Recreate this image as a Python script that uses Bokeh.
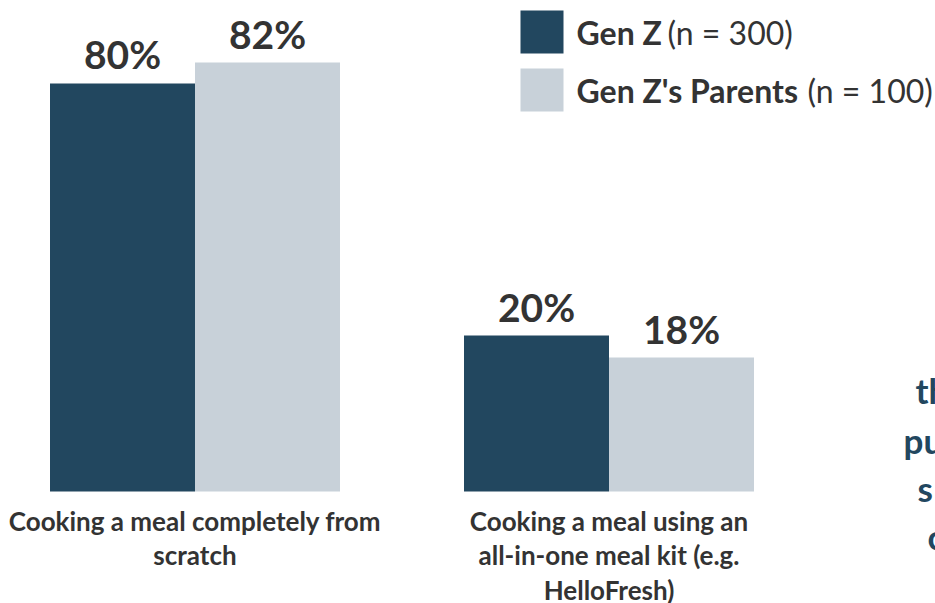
from bokeh.plotting import figure
from bokeh.models import Range1d, ColumnDataSource
from bokeh.core.properties import value
from bokeh.embed import file_html
from bokeh.resources import INLINE

# ---- data ----
categories = ["Cooking a meal completely from\nscratch",
              "Cooking a meal using an\nall-in-one meal kit (e.g.\nHelloFresh)"]
series_names = ["Gen Z", "Gen Z's Parents"]
series_n = ["(n = 300)", "(n = 100)"]
gen_z_values = [80, 20]
parents_values = [82, 18]
# bar heights as drawn in the picture (the source graphic is not to scale)
gen_z_heights = [78.0, 29.8]
parents_heights = [82.0, 25.6]
side_text = ["th", "pu", "s", "c"]

DARK = "#22475f"
LIGHT = "#c8d1d9"
TXT = "#333333"
FONT = "Lato"

W, H = 935, 603
PX_X = 414.0            # pixels per category step
X0 = -194.5 / PX_X
PX_Y = 429.0 / 82.0     # pixels per unit
Y0 = -(H - 491) / PX_Y

p = figure(width=W, height=H, output_backend="svg", toolbar_location=None,
           x_range=Range1d(X0, X0 + W / PX_X), y_range=Range1d(Y0, Y0 + H / PX_Y),
           min_border=0, outline_line_color=None)
p.axis.visible = False
p.grid.visible = False
p.background_fill_color = "white"

def px2x(px):
    return X0 + px / PX_X

def px2y(py):
    return Y0 + (H - py) / PX_Y

bw = 145.0 / PX_X
idx = list(range(len(categories)))
src_z = ColumnDataSource(dict(x=[i - bw / 2 for i in idx], top=gen_z_heights,
                              lab=[f"{v}%" for v in gen_z_values]))
src_p = ColumnDataSource(dict(x=[i + bw / 2 for i in idx], top=parents_heights,
                              lab=[f"{v}%" for v in parents_values]))
p.vbar(x="x", top="top", bottom=0, width=bw, source=src_z, fill_color=DARK, line_color=None)
p.vbar(x="x", top="top", bottom=0, width=bw, source=src_p, fill_color=LIGHT, line_color=None)

for s in (src_z, src_p):
    p.text(x="x", y="top", text="lab", source=s, text_align="center", text_baseline="bottom",
           y_offset=-6, text_font=value(FONT), text_font_style="bold",
           text_font_size="39px", text_color=TXT)

p.text(x=idx, y=[0] * len(idx), text=categories, text_align="center", text_baseline="top",
       y_offset=13, text_font=value(FONT), text_font_style="bold", text_font_size="26px",
       text_color=TXT, text_line_height=1.08)

# legend
leg_y = [31.5, 89.5]
for k, (name, n, col) in enumerate(zip(series_names, series_n, [DARK, LIGHT])):
    p.rect(x=[px2x(541.5)], y=[px2y(leg_y[k])], width=43 / PX_X, height=43 / PX_Y,
           fill_color=col, line_color=None)
p.text(x=[px2x(576)] * 2, y=[px2y(v) for v in leg_y], text=series_names,
       text_baseline="middle", text_font=value(FONT), text_font_style="bold",
       text_font_size="32px", text_color=TXT)
p.text(x=[px2x(667), px2x(807)], y=[px2y(v) for v in leg_y], text=series_n,
       text_baseline="middle", text_font=value(FONT), text_font_size="32px", text_color=TXT)

# cut-off text on right edge
p.text(x=[px2x(v) for v in [915, 903, 917, 927]], y=[px2y(v) for v in [410, 460, 508, 556]],
       text=side_text, text_baseline="bottom", text_font=value(FONT),
       text_font_style="bold", text_font_size="35px", text_color=DARK)

open("out.html", "w").write(file_html(p, INLINE))
